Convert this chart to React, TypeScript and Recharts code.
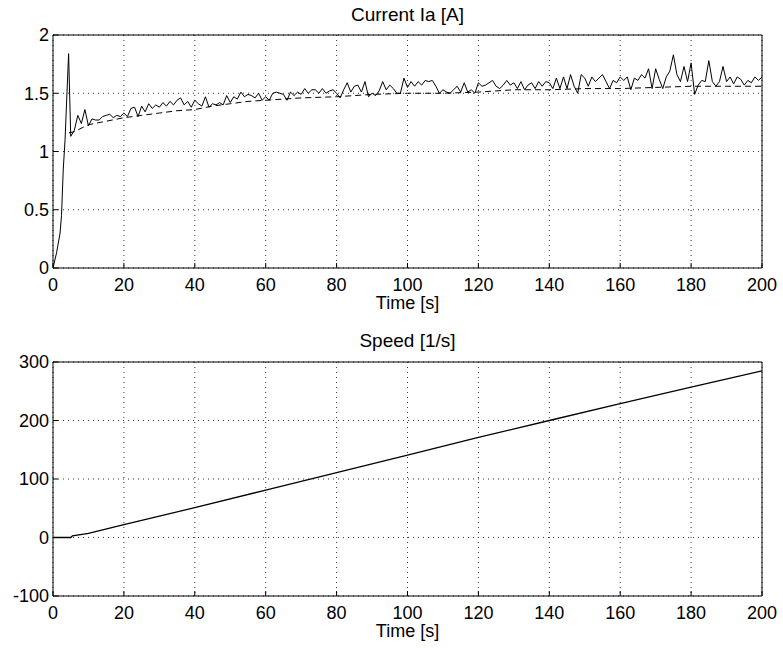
import React from 'react';
import { LineChart, Line, XAxis, YAxis, CartesianGrid } from 'recharts';

const TIME_TICKS = [0, 20, 40, 60, 80, 100, 120, 140, 160, 180, 200];
const CURRENT_TICKS = [0, 0.5, 1, 1.5, 2];
const SPEED_TICKS = [-100, 0, 100, 200, 300];

// start-up transient of the measured current
const STARTUP_T = [0, 1, 2, 2.4, 2.9, 3.4, 4.4];
const STARTUP_IA = [0, 0.13, 0.3, 0.45, 0.85, 1.1, 1.84];

// measured current, one sample per second from t = 5 s
const SAMPLE_T0 = 5;
const SAMPLE_DT = 1;
const IA_MEASURED = [
  1.13, 1.18, 1.31, 1.24, 1.36, 1.22, 1.28, 1.27, 1.27, 1.30,
  1.31, 1.32, 1.29, 1.31, 1.30, 1.33, 1.30, 1.37, 1.38, 1.30,
  1.39, 1.34, 1.41, 1.37, 1.40, 1.38, 1.42, 1.39, 1.43, 1.40,
  1.44, 1.46, 1.40, 1.43, 1.38, 1.44, 1.41, 1.39, 1.47, 1.38,
  1.41, 1.40, 1.42, 1.40, 1.48, 1.42, 1.47, 1.45, 1.51, 1.47,
  1.49, 1.48, 1.46, 1.50, 1.44, 1.47, 1.44, 1.50, 1.51, 1.50,
  1.49, 1.44, 1.51, 1.48, 1.51, 1.49, 1.54, 1.50, 1.53, 1.53,
  1.50, 1.54, 1.50, 1.52, 1.53, 1.50, 1.46, 1.53, 1.59, 1.51,
  1.56, 1.57, 1.51, 1.60, 1.47, 1.50, 1.48, 1.52, 1.60, 1.53,
  1.57, 1.54, 1.50, 1.50, 1.63, 1.55, 1.60, 1.56, 1.60, 1.57,
  1.61, 1.60, 1.61, 1.56, 1.50, 1.53, 1.51, 1.50, 1.53, 1.56,
  1.51, 1.59, 1.51, 1.53, 1.50, 1.59, 1.56, 1.57, 1.59, 1.61,
  1.56, 1.54, 1.57, 1.61, 1.57, 1.59, 1.54, 1.60, 1.53, 1.57,
  1.59, 1.54, 1.60, 1.56, 1.60, 1.59, 1.54, 1.63, 1.54, 1.64,
  1.54, 1.66, 1.56, 1.50, 1.66, 1.63, 1.56, 1.64, 1.60, 1.63,
  1.66, 1.60, 1.54, 1.61, 1.59, 1.64, 1.61, 1.64, 1.53, 1.63,
  1.61, 1.66, 1.63, 1.71, 1.54, 1.71, 1.62, 1.54, 1.64, 1.69,
  1.83, 1.66, 1.60, 1.73, 1.60, 1.76, 1.49, 1.57, 1.61, 1.60,
  1.78, 1.60, 1.56, 1.60, 1.73, 1.60, 1.64, 1.58, 1.64, 1.62,
  1.57, 1.61, 1.59, 1.64, 1.61, 1.64,
];

// reference (model) current, dashed
const IA_REF_T = [4.5, 6, 10, 15, 20, 25, 30, 35, 40, 45, 50, 55, 60, 70, 80, 90, 100, 110, 120, 130, 140, 150, 160, 170, 180, 190, 200];
const IA_REF = [1.16, 1.17, 1.23, 1.26, 1.29, 1.31, 1.33, 1.35, 1.36, 1.39, 1.41, 1.43, 1.44, 1.46, 1.47, 1.49, 1.50, 1.50, 1.51, 1.53, 1.53, 1.54, 1.54, 1.55, 1.56, 1.56, 1.56];

// speed
const SPEED_T = [0, 5, 5.5, 10, 20, 40, 60, 80, 100, 120, 140, 160, 180, 200];
const SPEED = [0, 0, 3, 7, 22, 51, 81, 111, 141, 171, 200, 229, 257, 285];

const iaData = [
  ...STARTUP_T.map((t, i) => ({ t, v: STARTUP_IA[i] })),
  ...IA_MEASURED.map((v, i) => ({ t: SAMPLE_T0 + i * SAMPLE_DT, v })),
];
const refData = IA_REF_T.map((t, i) => ({ t, v: IA_REF[i] }));
const speedData = SPEED_T.map((t, i) => ({ t, v: SPEED[i] }));

const FONT = '"Liberation Sans", Arial, Helvetica, sans-serif';
const tickStyle = { fill: '#000', fontSize: 18, fontFamily: FONT };
const lineStyle = { stroke: '#000', strokeWidth: 1 };
const blank = () => '';

function Panel({
  top,
  topPad,
  bottomPad,
  yDomain,
  yTicks,
  children,
}: {
  top: number;
  topPad: number;
  bottomPad: number;
  yDomain: [number, number];
  yTicks: number[];
  children: React.ReactNode;
}) {
  return (
    <div style={{ position: 'absolute', left: 0, top, width: 783, height: 324 }}>
      <LineChart width={783} height={324} margin={{ top: 0, right: 0, bottom: 0, left: 0 }}>
        <CartesianGrid stroke="#333" strokeDasharray="1 4" horizontalValues={yTicks} verticalValues={TIME_TICKS} />
        <XAxis
          dataKey="t"
          type="number"
          domain={[0, 200]}
          ticks={TIME_TICKS}
          interval={0}
          allowDataOverflow
          height={bottomPad}
          tickSize={-5}
          tickMargin={15}
          tick={tickStyle}
          axisLine={lineStyle}
          tickLine={lineStyle}
        />
        <XAxis
          xAxisId="top"
          orientation="top"
          dataKey="t"
          type="number"
          domain={[0, 200]}
          ticks={TIME_TICKS}
          interval={0}
          height={topPad}
          tickSize={-5}
          tickFormatter={blank}
          axisLine={lineStyle}
          tickLine={lineStyle}
        />
        <YAxis
          type="number"
          domain={yDomain}
          ticks={yTicks}
          interval={0}
          allowDataOverflow
          width={53}
          tickSize={-5}
          tickMargin={9}
          tick={tickStyle}
          axisLine={lineStyle}
          tickLine={lineStyle}
        />
        <YAxis
          yAxisId="right"
          orientation="right"
          type="number"
          domain={yDomain}
          ticks={yTicks}
          interval={0}
          width={21}
          tickSize={-5}
          tickFormatter={blank}
          axisLine={lineStyle}
          tickLine={lineStyle}
        />
        {children}
      </LineChart>
    </div>
  );
}

export default function App() {
  return (
    <div
      style={{
        position: 'absolute',
        left: 0,
        top: 0,
        width: 783,
        height: 648,
        background: '#fff',
        fontFamily: FONT,
      }}
    >
      <Panel top={0} topPad={35} bottomPad={56} yDomain={[0, 2]} yTicks={CURRENT_TICKS}>
        <Line
          data={refData}
          dataKey="v"
          type="linear"
          stroke="#000"
          strokeWidth={1}
          strokeDasharray="6 4"
          dot={false}
          activeDot={false}
          isAnimationActive={false}
        />
        <Line
          data={iaData}
          dataKey="v"
          type="linear"
          stroke="#000"
          strokeWidth={1}
          dot={false}
          activeDot={false}
          isAnimationActive={false}
        />
      </Panel>
      <Panel top={324} topPad={38} bottomPad={52} yDomain={[-100, 300]} yTicks={SPEED_TICKS}>
        <Line
          data={speedData}
          dataKey="v"
          type="linear"
          stroke="#000"
          strokeWidth={1.3}
          dot={false}
          activeDot={false}
          isAnimationActive={false}
        />
      </Panel>
      <svg
        width={783}
        height={648}
        style={{ position: 'absolute', left: 0, top: 0, pointerEvents: 'none' }}
      >
        <g fontFamily={FONT} fill="#000" textAnchor="middle">
          <text x={407.5} y={21} fontSize={19}>Current Ia [A]</text>
          <text x={407.5} y={309} fontSize={18}>Time [s]</text>
          <text x={407.5} y={347} fontSize={19}>Speed [1/s]</text>
          <text x={407.5} y={637} fontSize={18}>Time [s]</text>
        </g>
      </svg>
    </div>
  );
}
